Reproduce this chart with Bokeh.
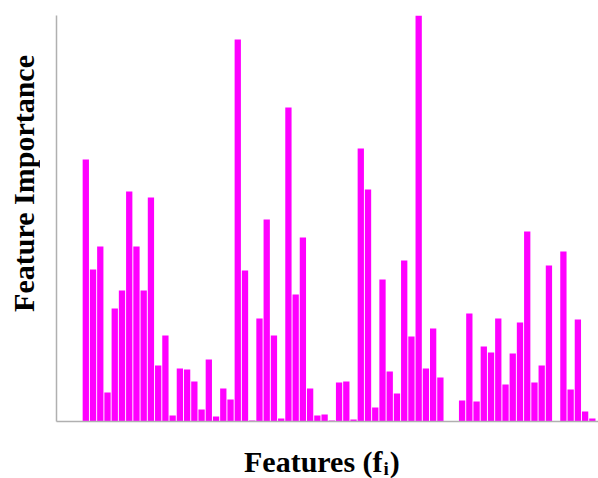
from bokeh.plotting import figure
from bokeh.models import FixedTicker, ColumnDataSource, Div
from bokeh.layouts import column, row
from bokeh.embed import file_html
from bokeh.resources import INLINE

# Feature importance values (relative units)
features = list(range(1, 72))
importance = [
    262, 152, 175, 29, 113, 131, 230, 175, 131, 224,
    56, 86, 6, 53, 52, 40, 12, 62, 5, 33,
    22, 382, 151, 1, 103, 202, 86, 3, 314, 127,
    184, 33, 6, 7, 1, 39, 40, 2, 273, 232,
    14, 142, 50, 28, 161, 85, 406, 53, 93, 44,
    0.5, 0, 21, 108, 20, 75, 69, 103, 37, 68,
    99, 190, 39, 56, 156, 0, 170, 32, 102, 10,
    3,
]
y_title = "Feature Importance"
x_title_main = "Features (f"
x_title_sub = "i"

W, H = 598, 478
YW = 40          # width of the y-title column
PH = 440         # plot height
PW = W - YW

p = figure(width=PW, height=PH, output_backend="svg", toolbar_location=None,
           x_range=(-3.05, 71.85), y_range=(0, 406),
           min_border_left=56 - YW, min_border_right=0, min_border_top=15,
           min_border_bottom=19, margin=0)
p.background_fill_color = "white"
p.border_fill_color = "white"
p.outline_line_color = None
p.grid.visible = False

src = ColumnDataSource(dict(x=features, top=importance))
p.vbar(x="x", top="top", bottom=0, width=0.87, source=src,
       fill_color="#FF00FF", line_color=None)

for ax in (p.xaxis[0], p.yaxis[0]):
    ax.ticker = FixedTicker(ticks=[])
    ax.major_tick_out = 0
    ax.major_tick_in = 0
    ax.major_label_standoff = 0
    ax.major_tick_line_color = None
    ax.minor_tick_line_color = None
    ax.major_label_text_font_size = "0px"
    ax.axis_line_color = "#b0b0b0"
    ax.axis_line_width = 1.5

text_style = ("font-family:'Liberation Serif'; font-weight:bold; "
              "font-size:30px; color:black; white-space:nowrap;")

ydiv = Div(
    text=(f'<div style="{text_style} line-height:30px; '
          f'writing-mode:vertical-rl; transform:rotate(180deg); '
          f'margin-left:9px; margin-top:55px;">{y_title}</div>'),
    width=YW, height=H, margin=0,
    styles={"background-color": "white"},
)

xdiv = Div(
    text=(f'<div style="{text_style} line-height:30px; '
          f'padding-left:{244 - YW}px; padding-top:7px;">'
          f'{x_title_main}<span style="font-size:19px; line-height:19px; '
          f'vertical-align:-3px; margin-left:1px;">{x_title_sub}</span>'
          f'<span style="margin-left:1px;">)</span></div>'),
    width=PW, height=H - PH, margin=0,
    styles={"background-color": "white"},
)

layout = row(ydiv, column(p, xdiv, spacing=0), spacing=0)
open("out.html", "w").write(file_html(layout, INLINE))
